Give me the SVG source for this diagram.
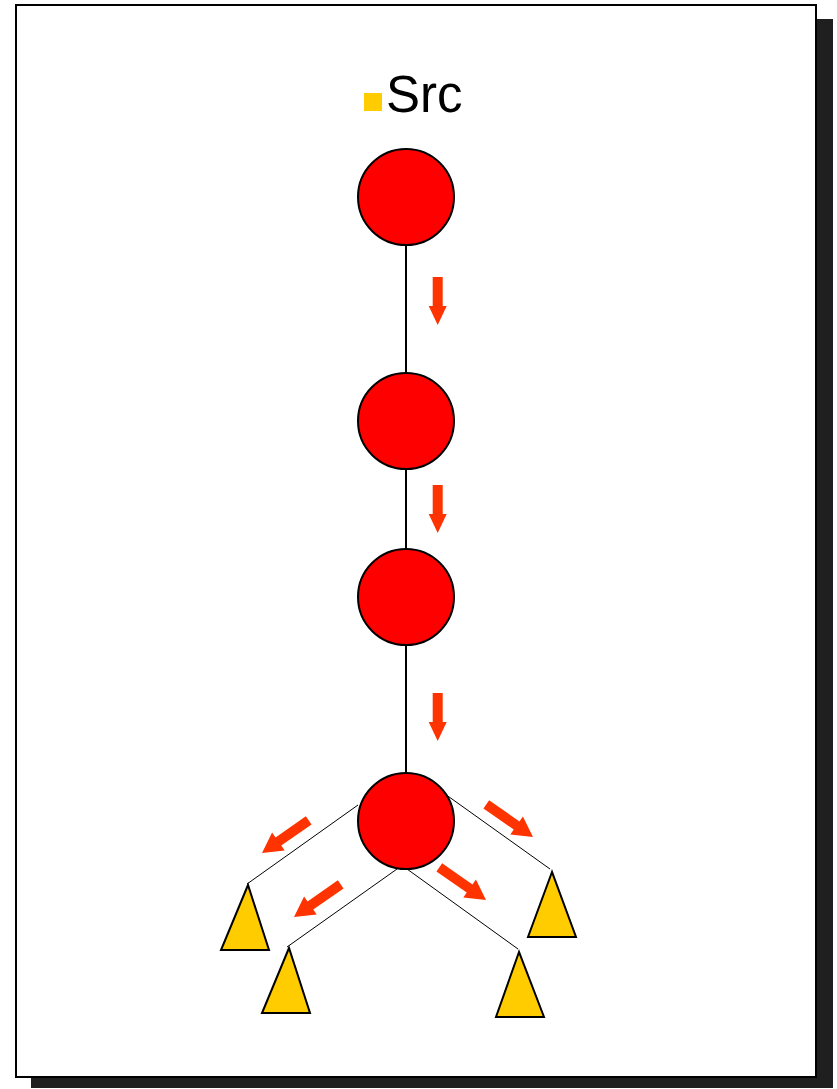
<svg xmlns="http://www.w3.org/2000/svg" width="837" height="1089" viewBox="0 0 837 1089">
<style>
.node{fill:#FF0000;stroke:#000;stroke-width:2}
.leaf{fill:#FFCC00;stroke:#000;stroke-width:2;stroke-linejoin:miter}
.edge{stroke:#000;fill:none}
.flow{fill:#FF3300}
</style>
<defs>
<path id="arrowV" d="M0,-5 L29,-5 L29,-9 L48,0 L29,9 L29,5 L0,5 Z"/>
<path id="arrowD" d="M0,-5 L37,-5 L37,-11 L57,0 L37,11 L37,5 L0,5 Z"/>
</defs>
<rect x="31" y="19" width="802" height="1069" fill="#1f1f1f"/>
<rect x="16" y="5" width="800" height="1072" fill="#fff" stroke="#000" stroke-width="2"/>
<g id="title">
<rect x="364" y="93" width="18" height="18" fill="#FFCC00"/>
<text x="386" y="112" font-family="Liberation Sans, Arial, sans-serif" font-size="51" fill="#000">Src</text>
</g>
<g id="connectors">
<line class="edge" x1="406" y1="245" x2="406" y2="773" stroke-width="2"/>
<line class="edge" x1="358" y1="805" x2="247" y2="884" stroke-width="1"/>
<line class="edge" x1="397" y1="869" x2="287" y2="947" stroke-width="1"/>
<line class="edge" x1="407" y1="869" x2="518" y2="949" stroke-width="1"/>
<line class="edge" x1="438" y1="789" x2="550" y2="869" stroke-width="1"/>
</g>
<g id="flows">
<use href="#arrowV" class="flow" transform="translate(437.7,277) rotate(90)"/>
<use href="#arrowV" class="flow" transform="translate(437.7,485) rotate(90)"/>
<use href="#arrowV" class="flow" transform="translate(437.7,693) rotate(90)"/>
<use href="#arrowD" class="flow" transform="translate(308.7,820.3) rotate(145)"/>
<use href="#arrowD" class="flow" transform="translate(340.7,884.3) rotate(145)"/>
<use href="#arrowD" class="flow" transform="translate(486.3,804.3) rotate(35)"/>
<use href="#arrowD" class="flow" transform="translate(439.3,867.3) rotate(35)"/>
</g>
<g id="n1"><circle class="node" cx="406" cy="197" r="48"/></g>
<g id="n2"><circle class="node" cx="406" cy="421" r="48"/></g>
<g id="n3"><circle class="node" cx="406" cy="597" r="48"/></g>
<g id="n4"><circle class="node" cx="406" cy="821" r="48"/></g>
<g id="t1"><polygon class="leaf" points="248,885 221,950 269,950"/></g>
<g id="t2"><polygon class="leaf" points="289,948 262,1013 310,1013"/></g>
<g id="t3"><polygon class="leaf" points="519,952 496,1017 544,1017"/></g>
<g id="t4"><polygon class="leaf" points="552,872 528,937 576,937"/></g>
</svg>
